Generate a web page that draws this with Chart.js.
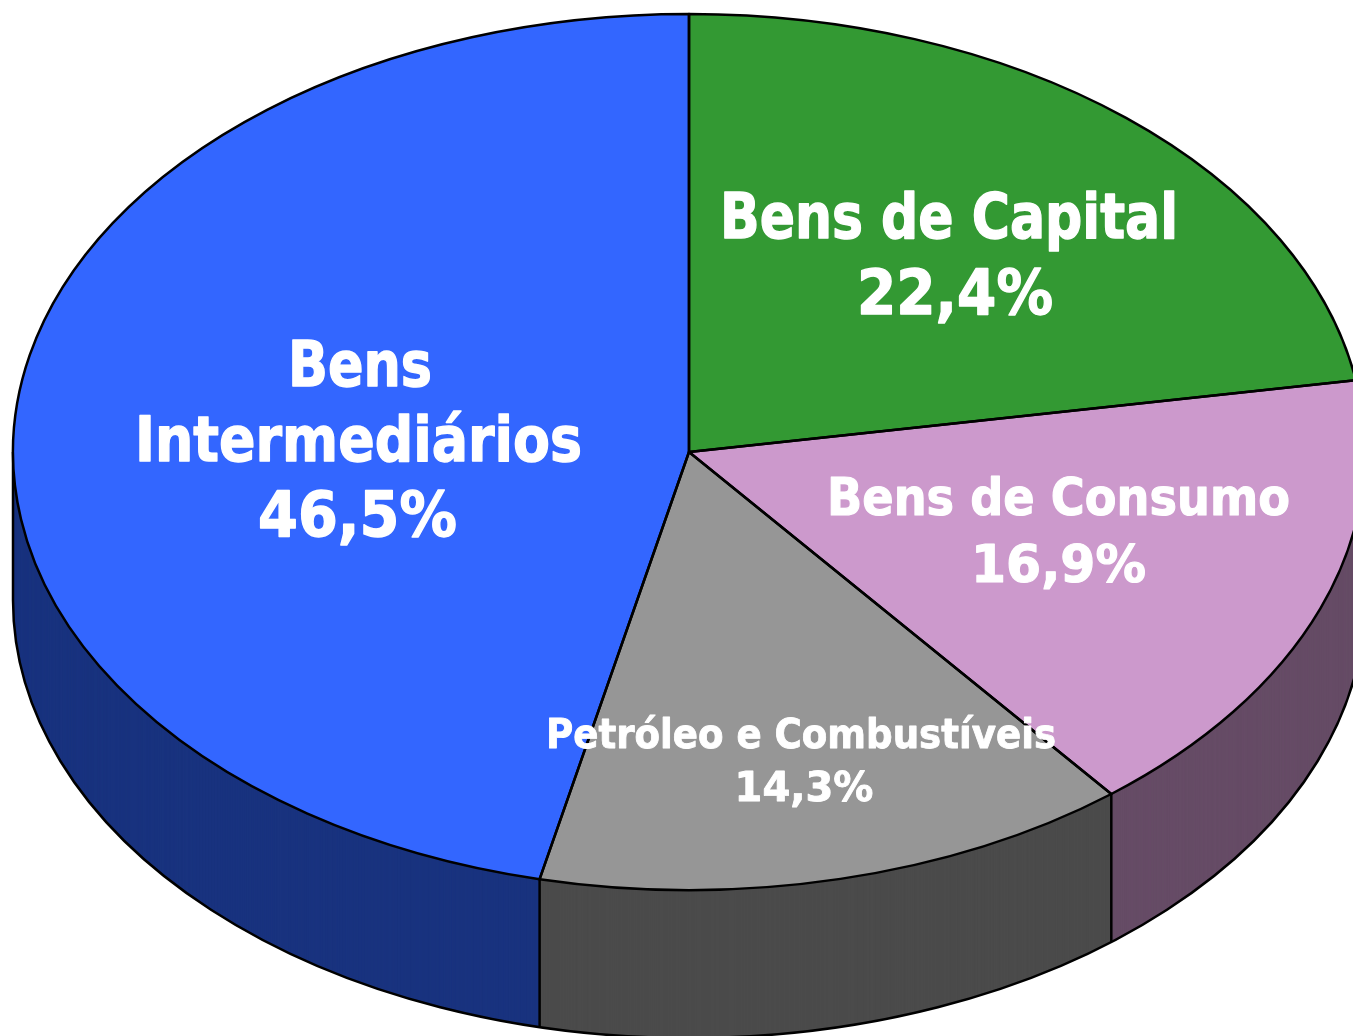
<!DOCTYPE html>
<html><head><meta charset="utf-8">
<style>html,body{margin:0;padding:0;background:#fff}canvas{display:block}</style>
<script src="https://cdn.jsdelivr.net/npm/chart.js@4"></script></head>
<body><canvas id="c" width="1353" height="1036"></canvas>
<script>
const categories = ["Bens de Capital", "Bens de Consumo", "Petróleo e Combustíveis", "Bens Intermediários"];
const values = [22.4, 16.9, 14.3, 46.5];
const topColors = ["#339933", "#CC99CC", "#969696", "#3366FF"];
const sideColors = ["#1A4D1A", "#664C66", "#4B4B4B", "#19337F"];
const labelLines = [
  ["Bens de Capital", "22,4%"],
  ["Bens de Consumo", "16,9%"],
  ["Petróleo e Combustíveis", "14,3%"],
  ["Bens", "Intermediários", "46,5%"]
];
const labelStyle = [
  {size: 62, xs: [949, 955], ys: [238, 314], ws: [458, 196]},
  {size: 51, xs: [1058.5, 1058.5], ys: [515, 582], ws: [463, 175]},
  {size: 40, xs: [801, 804], ys: [748, 801], ws: [510, 140]},
  {size: 62, xs: [360, 358.5, 357.5], ys: [386, 461, 536], ws: [144, 447, 199]}
];
const tilt = 438 / 676, depth = 148, radiusPx = 676, strokeW = 2.5;
const FONT = '"DejaVu Sans"';

function squash(ctx, cy, dy) { ctx.setTransform(1, 0, 0, tilt, 0, cy + dy - cy * tilt); }

const pie3d = {
  id: 'pie3d',
  beforeDatasetsDraw(chart) {
    const ctx = chart.ctx, arcs = chart.getDatasetMeta(0).data;
    const cx = arcs[0].x, cy = arcs[0].y, R = arcs[0].outerRadius;
    ctx.save();
    for (let k = depth; k >= 1; k--) {
      squash(ctx, cy, k);
      arcs.forEach((arc, i) => {
        const saved = arc.options;
        arc.options = Object.assign({}, saved, {backgroundColor: sideColors[i], borderWidth: 0});
        arc.draw(ctx);
        arc.options = saved;
      });
    }
    ctx.strokeStyle = '#000'; ctx.lineWidth = strokeW; ctx.lineJoin = 'round';
    squash(ctx, cy, depth);
    ctx.beginPath(); ctx.arc(cx, cy, R, 0, Math.PI);
    ctx.setTransform(1, 0, 0, 1, 0, 0); ctx.stroke();
    arcs.map(a => a.startAngle).concat([Math.PI]).forEach(t => {
      const s = Math.sin(t);
      if (s < -1e-6) return;
      const x = cx + R * Math.cos(t), y = cy + R * tilt * s;
      ctx.beginPath(); ctx.moveTo(x, y); ctx.lineTo(x, y + depth); ctx.stroke();
    });
    squash(ctx, cy, 0);
  },
  afterDatasetsDraw(chart) {
    const ctx = chart.ctx, arcs = chart.getDatasetMeta(0).data;
    const cy = arcs[0].y;
    ctx.lineJoin = 'round';
    arcs.forEach(arc => {
      squash(ctx, cy, 0);
      ctx.beginPath();
      ctx.moveTo(arc.x, arc.y);
      ctx.arc(arc.x, arc.y, arc.outerRadius, arc.startAngle, arc.endAngle);
      ctx.closePath();
      ctx.setTransform(1, 0, 0, 1, 0, 0);
      ctx.stroke();
    });
    ctx.restore();
    ctx.save();
    ctx.fillStyle = '#fff'; ctx.strokeStyle = '#fff'; ctx.lineJoin = 'round';
    ctx.textAlign = 'center'; ctx.textBaseline = 'alphabetic';
    labelLines.forEach((lines, i) => {
      const st = labelStyle[i];
      ctx.font = `bold ${st.size}px ${FONT}`;
      ctx.lineWidth = st.size / 45;
      lines.forEach((t, j) => {
        ctx.fillText(t, st.xs[j], st.ys[j], st.ws[j]);
        ctx.strokeText(t, st.xs[j], st.ys[j], st.ws[j]);
      });
    });
    ctx.restore();
  }
};

new Chart(document.getElementById('c'), {
  type: 'doughnut',
  data: {labels: categories, datasets: [{
    data: values, backgroundColor: topColors, borderWidth: 0, hoverOffset: 0, clip: false
  }]},
  options: {
    responsive: false, animation: false, cutout: 0, radius: radiusPx,
    layout: {padding: {left: 25, right: 0, top: 0, bottom: 132}},
    plugins: {legend: {display: false}, tooltip: {enabled: false}}
  },
  plugins: [pie3d]
});
</script></body></html>
